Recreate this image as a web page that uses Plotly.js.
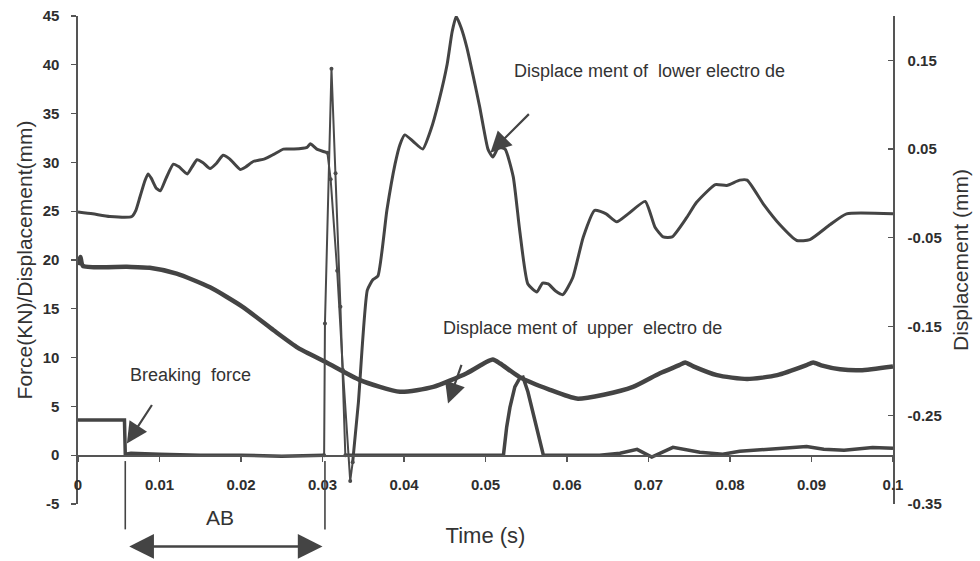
<!DOCTYPE html>
<html>
<head>
<meta charset="utf-8">
<script src="https://cdn.plot.ly/plotly-3.0.1.min.js"></script>
<style>html,body{margin:0;padding:0;background:#fff;}#chart{width:980px;height:561px;}</style>
</head>
<body>
<div id="chart"></div>
<script>
// ---- Data ----
// Breaking force (KN), left axis
var forceT = [0, 0.0057, 0.0058, 0.0065, 0.010, 0.015, 0.020, 0.025, 0.0302, 0.0303, 0.0311, 0.0316, 0.0322, 0.0328, 0.0335, 0.040, 0.045, 0.050, 0.0522, 0.0526, 0.0530, 0.0536, 0.0542, 0.0546, 0.0552, 0.0571, 0.060, 0.064, 0.0665, 0.0686, 0.0704, 0.0730, 0.0763, 0.0791, 0.0812, 0.0850, 0.0894, 0.0915, 0.0940, 0.0975, 0.100];
var forceV = [3.6, 3.6, 0.1, 0.2, 0.1, 0.0, 0.0, -0.1, 0.0, 13.5, 39.6, 28.9, 15.2, 0.0, 0.0, 0.0, 0.0, 0.0, 0.0, 2.9, 4.9, 7.0, 7.9, 8.0, 6.5, 0.0, 0.0, 0.0, 0.2, 0.6, -0.2, 0.8, 0.3, 0.1, 0.4, 0.6, 0.9, 0.6, 0.5, 0.8, 0.7];

// Displacement of upper electrode (mm), left axis
var upperT = [0, 0.0003, 0.0006, 0.0060, 0.0088, 0.0121, 0.0162, 0.0202, 0.0240, 0.0270, 0.0305, 0.0346, 0.0395, 0.0436, 0.0477, 0.0500, 0.0509, 0.0518, 0.0542, 0.0579, 0.0612, 0.0645, 0.0681, 0.0714, 0.0737, 0.0745, 0.0755, 0.0784, 0.0821, 0.0858, 0.0893, 0.0902, 0.0912, 0.0935, 0.0960, 0.100];
var upperV = [19.5, 20.3, 19.4, 19.3, 19.2, 18.6, 17.2, 15.2, 12.8, 11.0, 9.5, 7.7, 6.5, 7.0, 8.4, 9.5, 9.8, 9.4, 8.0, 6.7, 5.8, 6.2, 7.0, 8.4, 9.2, 9.5, 9.1, 8.2, 7.8, 8.2, 9.2, 9.5, 9.2, 8.8, 8.7, 9.1];

// Displacement of lower electrode (mm), right axis
var lowerT = [0, 0.0018, 0.0039, 0.0066, 0.0071, 0.0076, 0.0082, 0.0086, 0.0090, 0.0096, 0.0101, 0.0108, 0.0117, 0.0124, 0.0134, 0.0140, 0.0146, 0.0153, 0.0162, 0.0170, 0.0178, 0.0186, 0.0199, 0.0206, 0.0215, 0.0229, 0.0240, 0.0252, 0.0265, 0.0281, 0.0285, 0.0293, 0.0306, 0.0310, 0.0318, 0.0325, 0.0334, 0.0337, 0.0344, 0.0355, 0.0362, 0.0368, 0.0379, 0.0389, 0.0395, 0.0401, 0.0412, 0.0423, 0.0433, 0.0443, 0.0453, 0.0459, 0.0464, 0.0470, 0.0477, 0.0485, 0.0493, 0.0498, 0.0503, 0.0509, 0.0516, 0.0524, 0.0534, 0.0542, 0.0552, 0.0563, 0.0570, 0.0577, 0.0586, 0.0595, 0.0607, 0.0620, 0.0634, 0.0648, 0.0661, 0.0675, 0.0696, 0.0708, 0.0718, 0.0729, 0.0747, 0.0759, 0.0782, 0.0796, 0.0812, 0.0821, 0.0841, 0.0861, 0.0882, 0.0898, 0.0923, 0.0943, 0.100];
var lowerV = [-0.021, -0.023, -0.026, -0.026, -0.019, -0.004, 0.014, 0.022, 0.017, 0.006, 0.003, 0.017, 0.033, 0.030, 0.022, 0.030, 0.038, 0.035, 0.028, 0.034, 0.043, 0.039, 0.027, 0.030, 0.036, 0.039, 0.044, 0.050, 0.050, 0.052, 0.056, 0.050, 0.046, 0.016, -0.087, -0.199, -0.324, -0.303, -0.236, -0.109, -0.097, -0.093, -0.019, 0.033, 0.055, 0.066, 0.058, 0.050, 0.072, 0.105, 0.146, 0.182, 0.1995, 0.187, 0.165, 0.132, 0.097, 0.072, 0.050, 0.041, 0.052, 0.050, 0.019, -0.042, -0.102, -0.111, -0.101, -0.102, -0.110, -0.114, -0.095, -0.049, -0.019, -0.023, -0.032, -0.023, -0.009, -0.038, -0.049, -0.049, -0.027, -0.010, 0.010, 0.009, 0.015, 0.015, -0.012, -0.035, -0.053, -0.052, -0.035, -0.023, -0.023];

// Time windows in which the fast transient was recorded as a thin dotted trace
var forceSpikeWin = [0.0302, 0.0328];
var lowerDropWin = [0.0306, 0.0337];

// Axis ticks
var xTicks = [0, 0.01, 0.02, 0.03, 0.04, 0.05, 0.06, 0.07, 0.08, 0.09, 0.1];
var xTickText = ['0', '0.01', '0.02', '0.03', '0.04', '0.05', '0.06', '0.07', '0.08', '0.09', '0.1'];
var yTicks = [-5, 0, 5, 10, 15, 20, 25, 30, 35, 40, 45];
var yTickText = ['-5', '0', '5', '10', '15', '20', '25', '30', '35', '40', '45'];
var y2Ticks = [-0.35, -0.25, -0.15, -0.05, 0.05, 0.15];
var y2TickText = ['-0.35', '-0.25', '-0.15', '-0.05', '0.05', '0.15'];

// ---- helper: split a series into normal and transient parts ----
function splitSeries(t, v, win) {
  var main = {x: [], y: []}, fast = {x: [], y: []};
  for (var i = 0; i < t.length; i++) {
    var inWin = t[i] >= win[0] && t[i] <= win[1];
    if (inWin) { fast.x.push(t[i]); fast.y.push(v[i]); }
    if (t[i] <= win[0] || t[i] >= win[1]) { main.x.push(t[i]); main.y.push(v[i]); }
    else if (main.x.length && main.y[main.y.length - 1] !== null) { main.x.push(t[i]); main.y.push(null); }
  }
  return [main, fast];
}

var LINE = '#444';
var fS = splitSeries(forceT, forceV, forceSpikeWin);
var lS = splitSeries(lowerT, lowerV, lowerDropWin);

var traces = [
  {x: upperT, y: upperV, type: 'scatter', mode: 'lines', name: 'upper electrode',
   line: {color: LINE, width: 4.5, shape: 'spline', smoothing: 0.6}, yaxis: 'y'},
  {x: lS[0].x, y: lS[0].y, type: 'scatter', mode: 'lines', name: 'lower electrode',
   line: {color: LINE, width: 3, shape: 'spline', smoothing: 0.5}, yaxis: 'y2', connectgaps: false},
  {x: lS[1].x, y: lS[1].y, type: 'scatter', mode: 'lines+markers', name: 'lower electrode (fast)',
   line: {color: '#4a4a4a', width: 2}, marker: {color: '#4a4a4a', size: 4}, yaxis: 'y2'},
  {x: fS[0].x, y: fS[0].y, type: 'scatter', mode: 'lines', name: 'force',
   line: {color: LINE, width: 3.5}, yaxis: 'y', connectgaps: false},
  {x: fS[1].x, y: fS[1].y, type: 'scatter', mode: 'lines+markers', name: 'force (fast)',
   line: {color: '#4a4a4a', width: 2}, marker: {color: '#4a4a4a', size: 4}, yaxis: 'y'}
];

var FONT = 'Liberation Sans, Arial, sans-serif';
function tickFont() { return {family: FONT, size: 15, color: '#2e2e2e', weight: 'bold'}; }
var txt = {family: FONT, size: 18, color: '#333'};

var layout = {
  width: 980, height: 561,
  margin: {l: 78, r: 87, t: 16, b: 57},
  paper_bgcolor: '#fff', plot_bgcolor: '#fff',
  showlegend: false,
  font: {family: FONT, color: '#333'},
  xaxis: {
    range: [0, 0.1], anchor: 'free', position: 0.1,
    tickmode: 'array', tickvals: xTicks, ticktext: xTickText,
    ticks: 'outside', ticklen: 5, tickwidth: 1.3, tickcolor: '#555',
    showline: true, linecolor: '#555', linewidth: 1.6,
    showgrid: false, zeroline: false, tickfont: tickFont(), ticklabelstandoff: 10,
    title: {text: 'Time (s)', font: {family: FONT, size: 22, color: '#333'}, standoff: 36}
  },
  yaxis: {
    range: [-5, 45], tickmode: 'array', tickvals: yTicks, ticktext: yTickText,
    ticks: 'outside', ticklen: 5, tickwidth: 1.3, tickcolor: '#555',
    showline: true, linecolor: '#555', linewidth: 1.6,
    showgrid: false, zeroline: false, tickfont: tickFont(), ticklabelstandoff: 9,
    title: {text: 'Force(KN)/Displacement(mm)', font: {family: FONT, size: 21, color: '#333'}, standoff: 4}
  },
  yaxis2: {
    range: [-0.35, 0.2], overlaying: 'y', side: 'right', anchor: 'x',
    tickmode: 'array', tickvals: y2Ticks, ticktext: y2TickText,
    ticks: 'inside', ticklen: 5, tickwidth: 1.3, tickcolor: '#555',
    showline: true, linecolor: '#555', linewidth: 1.6,
    showgrid: false, zeroline: false, tickfont: tickFont(), ticklabelstandoff: 10,
    title: {text: 'Displacement (mm)', font: {family: FONT, size: 21, color: '#333'}, standoff: 12}
  },
  shapes: [
    {type: 'line', xref: 'x', yref: 'paper', x0: 0.0058, x1: 0.0058, y0: 0.088, y1: -0.052, line: {color: '#444', width: 1.6}},
    {type: 'line', xref: 'x', yref: 'paper', x0: 0.0303, x1: 0.0303, y0: 0.088, y1: -0.052, line: {color: '#444', width: 1.6}}
  ],
  annotations: [
    {text: 'Displace ment of  lower electro de', xref: 'x', yref: 'y', x: 0.0532, y: 39.4, xanchor: 'left', yanchor: 'middle', showarrow: false, font: txt},
    {text: 'Displace ment of  upper  electro de', xref: 'x', yref: 'y', x: 0.0446, y: 13.0, xanchor: 'left', yanchor: 'middle', showarrow: false, font: txt},
    {text: 'Breaking  force', xref: 'x', yref: 'y', x: 0.0061, y: 8.2, xanchor: 'left', yanchor: 'middle', showarrow: false, font: txt},
    {text: 'AB', xref: 'x', yref: 'paper', x: 0.0174, y: -0.028, xanchor: 'center', yanchor: 'middle', showarrow: false, font: {family: FONT, size: 21, color: '#333'}},
    {text: '', xref: 'x', yref: 'y', x: 0.0506, y: 31.0, ax: 40, ay: -40, showarrow: true, arrowhead: 2, arrowsize: 1.9, arrowwidth: 2.2, arrowcolor: '#444'},
    {text: '', xref: 'x', yref: 'y', x: 0.0454, y: 5.3, ax: 14, ay: -40, showarrow: true, arrowhead: 2, arrowsize: 1.9, arrowwidth: 2.2, arrowcolor: '#444'},
    {text: '', xref: 'x', yref: 'y', x: 0.0060, y: 1.2, ax: 26, ay: -40, showarrow: true, arrowhead: 2, arrowsize: 1.9, arrowwidth: 2.2, arrowcolor: '#444'},
    {text: '', xref: 'x', yref: 'paper', x: 0.0300, y: -0.087, axref: 'x', ax: 0.0061, ayref: 'pixel', ay: 0, showarrow: true, arrowside: 'end+start', arrowhead: 2, startarrowhead: 2, arrowsize: 1.9, startarrowsize: 1.9, arrowwidth: 2.6, arrowcolor: '#444'}
  ]
};

Plotly.newPlot('chart', traces, layout, {displayModeBar: false, staticPlot: true});
</script>
</body>
</html>
